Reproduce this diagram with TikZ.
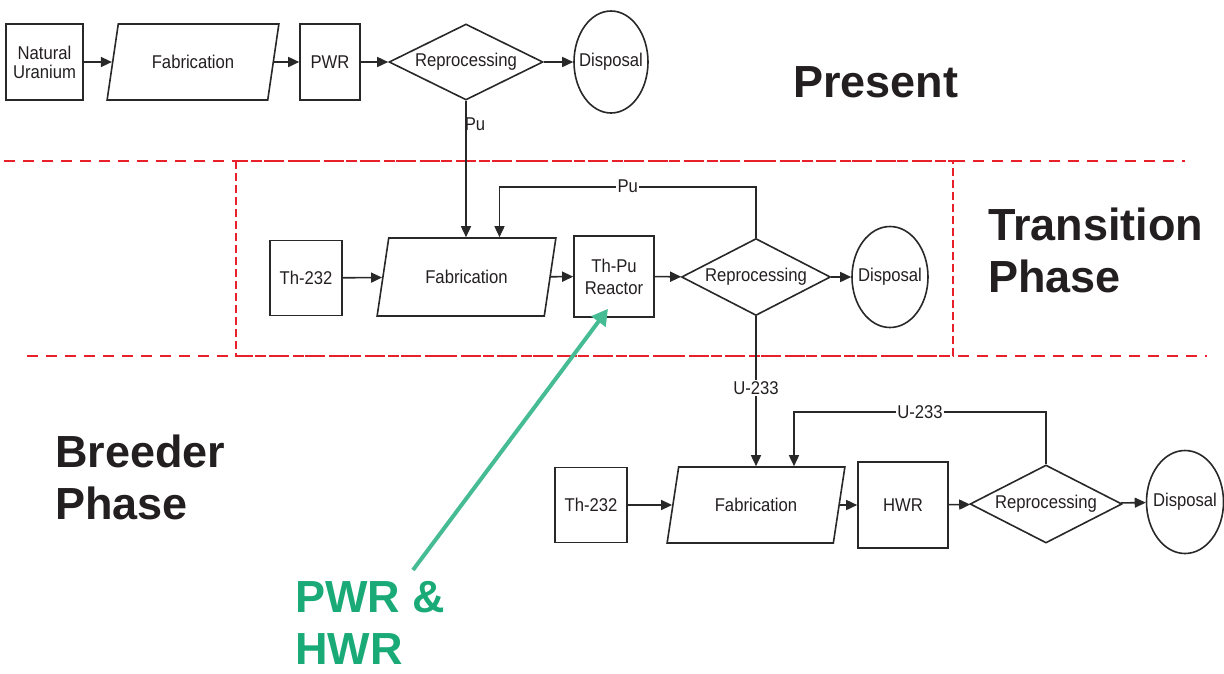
\documentclass[tikz,border=0pt]{standalone}
\usepackage{fontspec}
\setmainfont{Liberation Sans}
\newfontfamily\chartfont{Liberation Sans}[FakeStretch=0.9]
\usepackage{xcolor}
\usepackage{tikz}
\usetikzlibrary{arrows.meta,shapes.geometric}

\definecolor{zonered}{RGB}{232,32,42}
\definecolor{tealgreen}{RGB}{70,188,148}
\definecolor{labelgreen}{RGB}{26,170,120}
\definecolor{inkgray}{RGB}{35,31,32}
\definecolor{linegray}{RGB}{40,40,40}

\newcommand{\squeeze}[1]{\makebox[48pt]{#1}}

\begin{document}
\begin{tikzpicture}[
x=1pt,y=-1pt,
>={Triangle[length=11pt,width=10pt]},
every node/.style={font=\chartfont\fontsize{18.5}{22}\selectfont,text=inkgray},
unit/.style={draw=linegray,line width=1.6pt,inner sep=2pt},
fab/.style={trapezium,trapezium left angle=68,trapezium right angle=112,
  trapezium stretches=true,draw=linegray,line width=1.6pt,inner sep=1pt},
decide/.style={diamond,aspect=2,draw=linegray,line width=1.6pt,inner sep=0pt},
sink/.style={ellipse,draw=linegray,line width=1.6pt,inner sep=0pt},
flow/.style={->,draw=linegray,line width=1.6pt},
lbl/.style={fill=white,inner sep=1.5pt},
phase/.style={font=\fontsize{45}{52}\selectfont\bfseries,align=left,inner sep=0pt},
sepline/.style={draw=zonered,line width=1.7pt,dash pattern=on 11pt off 8pt},
zonebox/.style={draw=zonered,line width=1.7pt,dash pattern=on 8pt off 4pt}
]
\useasboundingbox (0,0) rectangle (1224,673);

% Phase borders
\draw[sepline] (4,161) -- (1185,161);
\draw[sepline] (27,356) -- (1207,356);
\draw[zonebox] (236,161) rectangle (953,356);

% Present
\node[unit,minimum width=77,minimum height=76,align=center] (natu) at (44.5,62) {Natural\\[-3pt]Uranium};
\node[fab,minimum width=172,minimum height=76] (fab1) at (193,62) {Fabrication};
\node[unit,minimum width=60,minimum height=76] (pwr) at (330,62) {PWR};
\node[decide,minimum width=154,minimum height=76] (rep1) at (466,62) {Reprocessing};
\node[sink,minimum width=74,minimum height=102] (disp1) at (611,62) {\squeeze{Disposal}};

\draw[flow] (natu) -- (fab1);
\draw[flow] (fab1) -- (pwr);
\draw[flow] (pwr) -- (rep1);
\draw[flow] (rep1) -- (disp1);

% Transition phase
\node[unit,minimum width=72,minimum height=75] (th1) at (306,278) {Th-232};
\node[fab,minimum width=179,minimum height=78] (fab2) at (466.5,277) {Fabrication};
\node[unit,minimum width=80,minimum height=81,align=center] (thpu) at (614,276.5) {Th-Pu\\Reactor};
\node[decide,minimum width=149,minimum height=77] (rep2) at (756,277) {Reprocessing};
\node[sink,minimum width=76,minimum height=101] (disp2) at (890,277) {\squeeze{Disposal}};

\draw[flow] (rep1.south) -- node[pos=0.17,anchor=west,inner sep=0pt,xshift=-2pt]{Pu} (rep1.south |- fab2.north);
\draw[flow] (th1) -- (fab2);
\draw[flow] (fab2) -- (thpu);
\draw[flow] (thpu) -- (rep2);
\draw[flow] (rep2) -- (disp2);
\draw[flow] (rep2.north) -- ++(0,-51) -| node[lbl,pos=0.25]{Pu} ([xshift=33pt]fab2.north);

% Breeder phase
\node[unit,minimum width=72,minimum height=75] (th2) at (591,505) {Th-232};
\node[fab,minimum width=178,minimum height=76] (fab3) at (756,505) {Fabrication};
\node[unit,minimum width=90,minimum height=86] (hwr) at (903,505) {HWR};
\node[decide,minimum width=152,minimum height=78] (rep3) at (1046,504) {Reprocessing};
\node[sink,minimum width=77,minimum height=103] (disp3) at (1185,502) {\squeeze{Disposal}};

\draw[flow] (rep2.south) -- node[lbl,pos=0.48]{U-233} (rep2.south |- fab3.north);
\draw[flow] (th2) -- (fab3);
\draw[flow] (fab3) -- (hwr);
\draw[flow] (hwr) -- (rep3);
\draw[flow] (rep3) -- (disp3);
\draw[flow] (rep3.north) -- ++(0,-52) -| node[lbl,pos=0.25]{U-233} ([xshift=38pt]fab3.north);

% Phase labels
\node[phase,anchor=base west] (present) at (793,97) {Present};
\node[phase,anchor=north west] (transition) at (988,208) {Transition\\Phase};
\node[phase,anchor=north west] (breeder) at (55,435) {Breeder\\Phase};
\node[phase,text=labelgreen,anchor=north west] (tag) at (295,581) {PWR \&\\HWR};

% Pointer to the reactor
\coordinate (tail) at (413,570);
\draw[-{Triangle[length=16pt,width=17pt]},draw=tealgreen,fill=tealgreen,line width=4pt]
(tail) -- ([shift={(-6,-9)}]thpu.south);

\end{tikzpicture}
\end{document}
